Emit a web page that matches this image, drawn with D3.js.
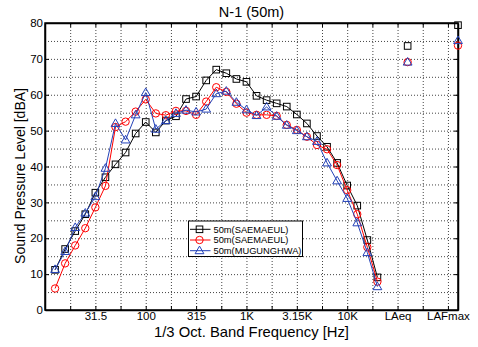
<!DOCTYPE html>
<html>
<head>
<meta charset="utf-8">
<script src="https://cdn.jsdelivr.net/npm/d3@7"></script>
<style>
  body { margin: 0; background: #fff; }
  svg { font-family: 'Liberation Sans', Arial, sans-serif; }
</style>
</head>
<body>
<div id="chart"></div>
<script>
// 1/3 octave bands 12.5 Hz .. 20 kHz, then the two overall levels
const bands = ['12.5','16','20','25','31.5','40','50','63','80','100','125','160','200','250','315','400','500','630','800','1K',
  '1.25K','1.6K','2K','2.5K','3.15K','4K','5K','6.3K','8K','10K','12.5K','16K','20K'];
const overall = ['LAeq', 'LAFmax'];

const saemaeul1 = [11.2,17,22,26.7,32.7,37,40.6,43.9,49.2,52.4,49.5,52.8,54,58.8,59.5,64,67,66,64.4,63.6,
  59.7,58.5,57.6,56.7,54.5,52,48.5,45.5,41,34.7,29.1,19.5,9.1];
const saemaeul2 = [6,13,18,22.8,28.6,34.6,51,52.5,55.3,58.7,54.8,54.3,55.5,55.5,54.4,58.1,62.1,60.8,57.5,55,
  54.4,54.4,54.1,51.6,50.2,48.3,46,44.8,40.4,33.4,26.7,17.5,7.9];
const mugunghwa = [11.3,16.3,23,27,31.6,39.5,52,47.4,54.4,60.6,50.4,52.8,54.8,55.7,55.2,56,60.3,61,57.9,55.8,
  54.2,56.6,54,51.5,50,48.3,47,41,36,31.1,24.3,16,6.5];

const saemaeul1Overall = [73.6, 79.4];
const saemaeul2Overall = [69.1, 73.7];
const mugunghwaOverall = [69.1, 75.1];

const xTickLabels = ['31.5','100','315','1K','3.15K','10K','LAeq','LAFmax'];
const yTicks = [0,10,20,30,40,50,60,70,80];

const width = 478, height = 347;
const margin = { left: 45, right: 20, top: 23, bottom: 37 };
const plotW = width - margin.left - margin.right;
const plotH = height - margin.top - margin.bottom;

const svg = d3.select('#chart').append('svg')
  .attr('width', width)
  .attr('height', height);

// position of a category: bands first, a gap of one, then LAeq and LAFmax every 5 slots
const slots = bands.concat(['', ''], overall.slice(0, 1), ['', '', '', ''], overall.slice(1));
const x = d3.scaleLinear().domain([0, 41]).range([margin.left, margin.left + plotW]);
const pos = (label) => slots.indexOf(label) + 1;
const y = d3.scaleLinear().domain([0, 80]).range([margin.top + plotH, margin.top]);

const xGridTicks = d3.range(1, 17).map(k => k * 2.5);
const yGridTicks = d3.range(0, 17).map(k => k * 5);

// dotted grid
svg.append('g')
  .attr('class', 'grid')
  .attr('transform', `translate(0, ${margin.top + plotH})`)
  .call(d3.axisBottom(x).tickValues(xGridTicks).tickSize(-plotH).tickFormat(''))
  .call(g => g.select('.domain').remove());
svg.append('g')
  .attr('class', 'grid')
  .attr('transform', `translate(${margin.left}, 0)`)
  .call(d3.axisLeft(y).tickValues(yGridTicks).tickSize(-plotW).tickFormat(''))
  .call(g => g.select('.domain').remove());
svg.selectAll('.grid line')
  .attr('stroke', '#444')
  .attr('stroke-width', 1)
  .attr('stroke-dasharray', '1,2');

// axes with inward ticks
const xLabelAt = {};
xTickLabels.forEach((t, k) => { xLabelAt[(k + 1) * 5] = t; });

const xAxis = svg.append('g')
  .attr('transform', `translate(0, ${margin.top + plotH})`)
  .call(d3.axisBottom(x).tickValues(xGridTicks).tickSizeInner(-4).tickSizeOuter(0).tickPadding(2)
    .tickFormat(d => xLabelAt[d] || ''));
const yAxis = svg.append('g')
  .attr('transform', `translate(${margin.left}, 0)`)
  .call(d3.axisLeft(y).tickValues(yTicks).tickSizeInner(-4).tickSizeOuter(0).tickPadding(2));
svg.append('g')
  .attr('transform', `translate(0, ${margin.top})`)
  .call(d3.axisTop(x).tickValues(xGridTicks).tickSizeInner(-4).tickSizeOuter(0).tickFormat(''));
svg.append('g')
  .attr('transform', `translate(${margin.left + plotW}, 0)`)
  .call(d3.axisRight(y).tickValues(yTicks).tickSizeInner(-4).tickSizeOuter(0).tickFormat(''));

svg.selectAll('.tick text')
  .attr('font-family', "'Liberation Sans', Arial, sans-serif")
  .attr('font-size', '11.5px')
  .attr('fill', '#000');
svg.selectAll('.tick line').filter(function() { return !this.closest('.grid'); })
  .attr('stroke', '#000');
svg.selectAll('.domain').attr('stroke', '#000').attr('stroke-width', 1.5);

svg.append('rect')
  .attr('x', margin.left)
  .attr('y', margin.top)
  .attr('width', plotW)
  .attr('height', plotH)
  .attr('fill', 'none')
  .attr('stroke', '#000')
  .attr('stroke-width', 1.5);

// series
const trianglePath = 'M0,-4.6L4.4,3L-4.4,3Z';
const seriesList = [
  { name: '50m(SAEMAEUL)', values: saemaeul1, overall: saemaeul1Overall, color: '#000000', marker: 'square' },
  { name: '50m(SAEMAEUL)', values: saemaeul2, overall: saemaeul2Overall, color: '#ff0000', marker: 'circle' },
  { name: '50m(MUGUNGHWA)', values: mugunghwa, overall: mugunghwaOverall, color: '#2442b8', marker: 'triangle' }
];

function drawMarker(g, type, color) {
  if (type === 'square') {
    g.append('rect').attr('x', -3.3).attr('y', -3.3).attr('width', 6.6).attr('height', 6.6)
      .attr('fill', 'none').attr('stroke', color).attr('stroke-width', 1);
  } else if (type === 'circle') {
    g.append('circle').attr('r', 3.7)
      .attr('fill', 'none').attr('stroke', color).attr('stroke-width', 1);
  } else {
    g.append('path').attr('d', trianglePath)
      .attr('fill', 'none').attr('stroke', color).attr('stroke-width', 1);
  }
}

const line = d3.line()
  .x(d => x(pos(d.band)))
  .y(d => y(d.value));

seriesList.forEach(s => {
  const pts = s.values.map((v, i) => ({ band: bands[i], value: v }));
  const ovPts = s.overall.map((v, i) => ({ band: overall[i], value: v }));

  svg.append('path')
    .datum(pts)
    .attr('d', line)
    .attr('fill', 'none')
    .attr('stroke', s.color)
    .attr('stroke-width', 1);

  svg.selectAll(null)
    .data(pts.concat(ovPts))
    .enter()
    .append('g')
    .attr('transform', d => `translate(${x(pos(d.band))}, ${y(d.value)})`)
    .each(function() { drawMarker(d3.select(this), s.marker, s.color); });
});

// legend
const legend = svg.append('g').attr('transform', 'translate(188.5, 221)');
legend.append('rect')
  .attr('width', 114)
  .attr('height', 35.5)
  .attr('fill', '#fff')
  .attr('stroke', '#000')
  .attr('stroke-width', 1);
seriesList.forEach((s, i) => {
  const row = legend.append('g').attr('transform', `translate(0, ${8.3 + i * 10.7})`);
  row.append('line').attr('x1', 1.5).attr('x2', 22).attr('stroke', s.color).attr('stroke-width', 1);
  drawMarker(row.append('g').attr('transform', 'translate(11, 0)'), s.marker, s.color);
  row.append('text')
    .attr('x', 25)
    .attr('y', 3.3)
    .attr('font-size', '9.3px')
    .attr('fill', '#000')
    .text(s.name);
});

// titles
svg.append('text')
  .attr('x', margin.left + plotW / 2)
  .attr('y', 17)
  .attr('text-anchor', 'middle')
  .attr('font-size', '14.5px')
  .text('N-1 (50m)');

svg.append('text')
  .attr('x', margin.left + plotW / 2)
  .attr('y', 337)
  .attr('text-anchor', 'middle')
  .attr('font-size', '14.8px')
  .text('1/3 Oct. Band Frequency [Hz]');

svg.append('text')
  .attr('transform', 'translate(25, 176) rotate(-90)')
  .attr('text-anchor', 'middle')
  .attr('font-size', '14px')
  .text('Sound Pressure Level [dBA]');
</script>
</body>
</html>
